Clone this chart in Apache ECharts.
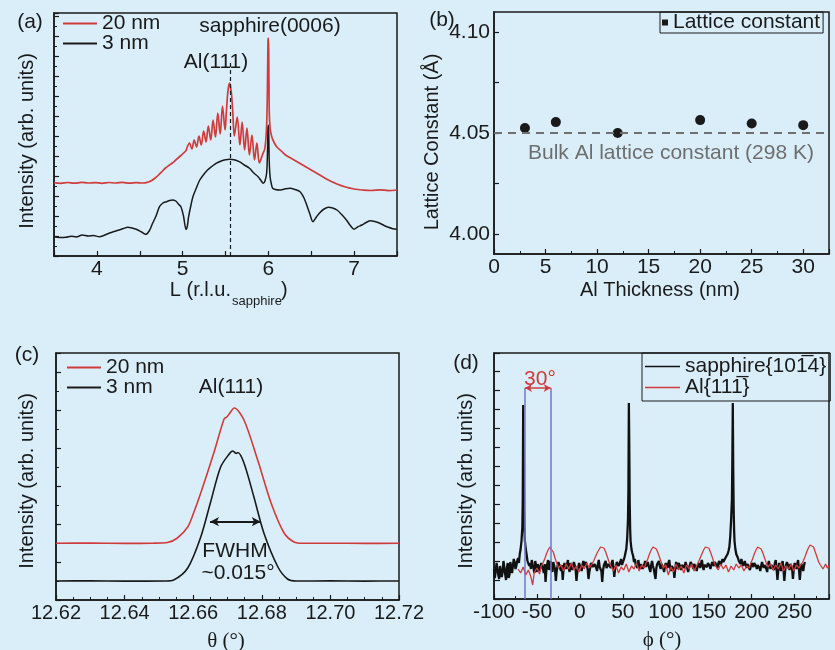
<!DOCTYPE html>
<html><head><meta charset="utf-8">
<script src="https://cdn.jsdelivr.net/npm/echarts@6/dist/echarts.min.js"></script>
<style>html,body{margin:0;padding:0;background:#daeef9;}#c{width:835px;height:650px;}</style>
</head><body><div id="c"></div>
<script>
const FONT = '"Liberation Sans", Arial, sans-serif';
const SERIF = '"Liberation Serif", "DejaVu Serif", serif';
const INK = '#1a1a1a';
const RED = '#d03c3c';
const BLUE = '#7478c4';

// ---------- (a) L scan, intensity in arbitrary units ----------
const aRed20 = [[3.50,73.3],[3.58,72.6],[3.66,73.5],[3.74,72.8],[3.82,73.6],[3.90,73.0],[3.98,73.4],[4.06,72.7],[4.14,73.5],[4.22,73.0],[4.30,73.6],[4.38,72.8],[4.46,73.4],[4.54,73.0],[4.60,74.0],[4.64,75.5],[4.68,78],[4.72,81],[4.76,84.5],[4.80,88],[4.84,90.5],[4.88,93],[4.92,96],[4.96,99],[5.00,102],[5.04,105.5],
[5.05,108],[5.08,113],[5.108,107],[5.135,116],[5.163,109],[5.19,120],[5.218,111],[5.245,125],[5.273,114],[5.30,130],[5.328,116],[5.355,136],[5.383,119],[5.41,143],[5.438,122],[5.465,150],[5.495,126],[5.51,144],[5.525,162],[5.537,170],[5.547,173],[5.557,170],[5.57,162],[5.585,144],[5.603,120],[5.637,139],[5.668,111],[5.694,134],[5.723,106],[5.750,128],[5.779,101],[5.808,121],[5.838,96],[5.866,113],[5.895,93],[5.93,101],[5.96,108],[5.98,131],[5.99,176],[5.996,216],[6.0,218],[6.004,206],[6.01,146],[6.02,128],[6.04,119],[6.07,113],[6.10,109],[6.15,105],[6.2,101],[6.3,96],[6.4,91],[6.5,86],[6.6,81],[6.7,76],[6.8,72],[6.9,69],[7.0,67],[7.1,66],[7.2,65.5],[7.3,66.2],[7.4,65.4],[7.5,66]];
const aBlack3 = [[3.50,19.3],[3.56,18.5],[3.64,18.7],[3.70,19.8],[3.76,19.0],[3.83,21],[3.90,20],[3.96,20.5],[4.03,19.3],[4.08,20.5],[4.14,22.7],[4.20,24.5],[4.26,26],[4.31,27.5],[4.36,28.7],[4.41,28],[4.46,26.7],[4.52,24],[4.57,21.7],[4.61,25],[4.65,32.7],[4.69,40],[4.73,49.3],[4.77,53],[4.81,54.3],[4.85,55.5],[4.88,56],[4.92,55],[4.95,52],[4.98,49.3],[5.01,40],[5.04,26.7],[5.055,30],[5.07,39.3],[5.10,52],[5.12,59.3],[5.16,68],[5.20,76],[5.25,82],[5.29,86],[5.34,89.5],[5.39,92.7],[5.45,95],[5.50,96.2],[5.55,96.7],[5.60,96.3],[5.66,94.3],[5.72,91],[5.78,87.7],[5.83,83],[5.88,79.3],[5.91,76],[5.94,72.7],[5.96,75],[5.98,83],[5.99,105],[5.995,125],[6.00,131],[6.005,118],[6.01,95],[6.02,79.3],[6.035,72],[6.05,67.7],[6.08,66.5],[6.13,66],[6.19,67],[6.25,67.7],[6.31,66.5],[6.37,64.3],[6.41,59],[6.44,52.7],[6.48,43],[6.52,34.3],[6.56,39],[6.60,43.3],[6.65,47],[6.70,48.7],[6.75,48],[6.80,46],[6.86,41],[6.91,36],[6.96,30],[7.00,26.7],[7.04,29],[7.09,31],[7.14,33.5],[7.19,35.3],[7.24,34.5],[7.30,32.7],[7.35,30.5],[7.40,28.7],[7.45,27.3],[7.50,26.7]];
const aPeakL = 5.55, aPeakLineTop = 193;
const aXTicks = [4, 5, 6, 7];

// ---------- (b) lattice constant ----------
const bThickness = [3, 6, 12, 20, 25, 30];
const bLattice = [4.0525, 4.0554, 4.0500, 4.0564, 4.0547, 4.0539];
const bBulk = 4.05;
const bYTicks = [4.00, 4.05, 4.10];

// ---------- (c) rocking curves ----------
const cRed20 = [[12.62,56.7],[12.63,56.9],[12.64,56.6],[12.648,56.8],[12.6525,57.5],[12.6554,62],[12.6584,73],[12.660,86],[12.6622,107],[12.666,147],[12.669,181],[12.6698,183],[12.6705,186],[12.672,192],[12.6748,180],[12.6788,140],[12.6827,97],[12.6865,67],[12.6894,58],[12.692,56.7],[12.70,56.8],[12.71,56.6],[12.72,56.7]];
const cBlack3 = [[12.62,19],[12.63,19.2],[12.64,18.9],[12.652,19],[12.6543,20],[12.6584,32],[12.6622,63],[12.665,97],[12.668,133],[12.6705,146],[12.6715,149],[12.672,148],[12.6725,146.5],[12.673,147.5],[12.6748,137],[12.6777,103],[12.6806,67],[12.6847,33],[12.6875,21],[12.69,19],[12.70,19.1],[12.71,18.9],[12.72,19]];
const cFwhm = [12.6649, 12.6797], cFwhmLevel = 78.3;

// ---------- (d) phi scans ----------
const dSapphire = [[-100,30],[-99,21],[-98,22],[-97,36],[-96,38],[-95,24],[-94,20],[-93,33],[-92,35],[-91,22],[-90,27],[-89,38],[-88,40],[-87,25],[-86,19],[-85,31],[-84,36],[-83,21],[-82,24],[-81,37],[-80,39],[-79,26],[-78,28],[-77,40],[-76,37],[-75,30],[-74,33],[-73,38],[-72,41],[-71,36],[-70,45],[-69,50],[-68,58],[-67,72],[-66.5,100],[-66,194],[-65.5,140],[-65,92],[-64.5,68],[-64,58],[-63,50],[-62,44],[-61,38],[-60,40],[-59,33],[-58,36],[-57,30],[-56,39],[-55,34],[-54,31],[-53,26],[-52,38],[-51,33],[-50,27],[-49,35],[-48,37],[-47,28],[-46,30],[-45,36],[-44,38],[-43,30],[-42,26],[-41,35],[-40,17],[-39,29],[-38,35],[-37,39],[-36,29],[-35,33],[-34,38],[-33,30],[-32,27],[-31,37],[-30,36],[-29,30],[-28,18],[-27,28],[-26,33],[-25,37],[-24,38],[-23,31],[-22,28],[-21,34],[-20,19],[-19,30],[-18,36],[-17,38],[-16,30],[-15,34],[-14,39],[-13,31],[-12,27],[-11,36],[-10,35],[-9,29],[-8,31],[-7,37],[-6,38],[-5,30],[-4,18],[-3,27],[-2,30],[-1,36],[0,37],[1,31],[2,28],[3,34],[4,38],[5,33],[6,31],[7,37],[8,36],[9,30],[10,20],[11,27],[12,29],[13,36],[14,38],[15,32],[16,30],[17,35],[18,37],[19,31],[20,28],[21,35],[22,39],[23,32],[24,30],[25,28],[26,17],[27,29],[28,34],[29,36],[30,38],[31,31],[32,29],[33,35],[34,37],[35,33],[36,31],[37,36],[38,39],[39,32],[40,22],[41,30],[42,33],[43,37],[44,38],[45,33],[46,31],[47,37],[48,40],[49,34],[50,36],[51,39],[52,42],[53,46],[54,50],[55,60],[56,80],[56.5,110],[57,196],[57.5,150],[58,95],[58.5,70],[59,58],[60,50],[61,46],[62,43],[63,37],[64,40],[65,34],[66,36],[67,31],[68,39],[69,33],[70,30],[71,35],[72,37],[73,30],[74,28],[75,35],[76,38],[77,32],[78,31],[79,37],[80,36],[81,30],[82,27],[83,34],[84,38],[85,33],[86,30],[87,28],[88,20],[89,31],[90,35],[91,37],[92,38],[93,33],[94,30],[95,35],[96,37],[97,31],[98,27],[99,33],[100,36],[101,34],[102,31],[103,36],[104,39],[105,32],[106,28],[107,33],[108,35],[109,30],[110,21],[111,30],[112,37],[113,33],[114,30],[115,36],[116,38],[117,32],[118,29],[119,34],[120,36],[121,33],[122,31],[123,37],[124,39],[125,31],[126,27],[127,31],[128,34],[129,37],[130,38],[131,33],[132,30],[133,35],[134,37],[135,31],[136,28],[137,33],[138,36],[139,34],[140,31],[141,36],[142,39],[143,33],[144,29],[145,34],[146,36],[147,35],[148,32],[149,36],[150,38],[151,33],[152,30],[153,34],[154,37],[155,35],[156,33],[157,37],[158,39],[159,34],[160,31],[161,35],[162,38],[163,36],[164,34],[165,37],[166,40],[167,37],[168,36],[169,39],[170,42],[171,43],[172,45],[173,48],[174,52],[175,62],[176,78],[177,100],[177.5,140],[178,196],[178.5,130],[179,90],[179.5,70],[180,58],[181,50],[182,45],[183,43],[184,41],[185,38],[186,37],[187,35],[188,40],[189,36],[190,33],[191,35],[192,38],[193,34],[194,31],[195,35],[196,37],[197,33],[198,29],[199,33],[200,36],[201,35],[202,32],[203,36],[204,38],[205,33],[206,30],[207,34],[208,35],[209,31],[210,28],[211,33],[212,37],[213,35],[214,31],[215,34],[216,36],[217,30],[218,27],[219,34],[220,38],[221,33],[222,30],[223,34],[224,36],[225,32],[226,29],[227,36],[228,39],[229,30],[230,19],[231,30],[232,36],[233,33],[234,28],[235,35],[236,38],[237,30],[238,18],[239,29],[240,34],[241,37],[242,39],[243,32],[244,29],[245,35],[246,37],[247,31],[248,20],[249,30],[250,36],[251,33],[252,30],[253,35],[254,39],[255,30],[256,19],[257,29],[258,35],[259,33],[260,28],[261,34],[262,37]];
const dAl = [[-72,30],[-69,26],[-66,32],[-63,24],[-60,29],[-57,22],[-55,14],[-53,27],[-50,31],[-47,25],[-45,33],[-43,36],[-41,40],[-39,45],[-37,49],[-35,52],[-34,53],[-33,51],[-31,47],[-29,41],[-27,36],[-25,31],[-22,34],[-19,28],[-16,35],[-13,30],[-10,36],[-7,29],[-4,33],[-1,27],[2,34],[5,30],[8,36],[11,31],[14,35],[16,38],[18,42],[20,46],[22,49],[24,52],[26,53],[28,51],[30,47],[32,42],[34,37],[36,33],[39,28],[42,34],[45,26],[48,32],[51,29],[54,35],[57,27],[60,33],[63,30],[66,36],[69,28],[72,34],[75,31],[77,36],[79,40],[81,45],[83,49],[85,52],[87,53],[89,50],[91,46],[93,41],[95,36],[97,31],[100,34],[103,24],[106,32],[109,27],[112,35],[115,29],[118,33],[121,26],[124,34],[127,30],[130,35],[133,28],[136,33],[138,37],[140,41],[142,45],[144,49],[146,52],[148,53],[150,51],[152,47],[154,42],[156,37],[158,33],[161,29],[164,35],[167,30],[170,34],[173,27],[176,33],[179,29],[182,35],[185,31],[188,34],[191,28],[194,33],[197,31],[199,36],[201,40],[203,45],[205,49],[207,52],[209,53],[211,50],[213,46],[215,41],[217,36],[219,32],[222,35],[225,29],[228,34],[231,30],[234,36],[237,28],[240,33],[243,30],[246,35],[249,28],[252,34],[255,31],[258,35],[260,38],[262,42],[264,47],[266,51],[268,54],[270,55],[272,52],[274,47],[276,42],[278,37],[280,34],[283,30],[286,35],[288,31],[290,33]];
const dGuides = [-64, -34], dGuideTop = 211;

// ---------- helpers ----------
function axisLineStyle() { return { show: true, onZero: false, lineStyle: { color: INK, width: 1.5 } }; }
function tick(len) { return { show: true, inside: true, length: len, lineStyle: { color: INK, width: 1.2 } }; }
function minor(n) { return { show: true, splitNumber: n, length: 3, lineStyle: { color: INK, width: 1 } }; }
const lbl = (o) => Object.assign({ color: INK, fontSize: 21, fontFamily: FONT, margin: 3 }, o);
const noSplit = { show: false };

const grids = [
  { left: 54, top: 13, width: 343, height: 243 },
  { left: 494, top: 12, width: 335, height: 242 },
  { left: 56, top: 353, width: 343, height: 247 },
  { left: 494, top: 353, width: 335, height: 246 }
].map(g => Object.assign(g, { show: true, borderColor: INK, borderWidth: 1.5, backgroundColor: 'transparent' }));

const xAxes = [
  { gridIndex: 0, type: 'value', min: 3.5, max: 7.5, interval: 0.5, axisLine: axisLineStyle(), axisTick: tick(5), minorTick: { show: false }, splitLine: noSplit,
    axisLabel: lbl({ formatter: v => (aXTicks.indexOf(v) >= 0 ? String(v) : '') }) },
  { gridIndex: 1, type: 'value', min: 0, max: 32.5, interval: 5, axisLine: axisLineStyle(), axisTick: tick(5), minorTick: minor(2), splitLine: noSplit,
    axisLabel: lbl({ showMaxLabel: false }) },
  { gridIndex: 2, type: 'value', min: 12.62, max: 12.72, interval: 0.02, axisLine: axisLineStyle(), axisTick: tick(5), minorTick: minor(4), splitLine: noSplit,
    axisLabel: lbl({ fontSize: 20, formatter: v => v.toFixed(2) }) },
  { gridIndex: 3, type: 'value', min: -100, max: 290, interval: 50, axisLine: axisLineStyle(), axisTick: tick(5), minorTick: minor(2), splitLine: noSplit,
    axisLabel: lbl({ showMaxLabel: false }) }
];
const yAxes = [
  { gridIndex: 0, type: 'value', min: 0, max: 243, interval: 20, axisLine: axisLineStyle(), axisTick: tick(5), minorTick: minor(2), splitLine: noSplit, axisLabel: { show: false } },
  { gridIndex: 1, type: 'value', min: 3.99, max: 4.11, axisLine: axisLineStyle(),
    axisTick: { show: true, inside: true, length: 5, lineStyle: { color: INK, width: 1.2 }, customValues: [4.0, 4.025, 4.05, 4.075, 4.1] },
    splitLine: noSplit, axisLabel: lbl({ margin: 4, customValues: bYTicks, formatter: v => v.toFixed(2) }) },
  { gridIndex: 2, type: 'value', min: 0, max: 247, interval: 38, axisLine: axisLineStyle(), axisTick: tick(5), minorTick: minor(2), splitLine: noSplit, axisLabel: { show: false } },
  { gridIndex: 3, type: 'value', min: 0, max: 246, interval: 19, axisLine: axisLineStyle(), axisTick: tick(6), minorTick: { show: false }, splitLine: noSplit, axisLabel: { show: false } }
];

const lineSeries = (name, gi, data, color, width) => ({
  type: 'line', name, xAxisIndex: gi, yAxisIndex: gi, data, symbol: 'none', showSymbol: false,
  lineStyle: { color, width }, itemStyle: { color }, silent: true
});

const sA20 = lineSeries('20 nm', 0, aRed20, RED, 1.7); sA20.smooth = 0.35;
const sA3 = lineSeries('3 nm', 0, aBlack3, INK, 1.5); sA3.smooth = 0.3;
sA3.markLine = { silent: true, symbol: 'none', label: { show: false }, lineStyle: { type: [4, 3], color: INK, width: 1.2 },
  data: [[{ coord: [aPeakL, 0] }, { coord: [aPeakL, aPeakLineTop] }]] };

const sB = { type: 'scatter', name: 'Lattice constant', xAxisIndex: 1, yAxisIndex: 1, symbol: 'circle', symbolSize: 10,
  itemStyle: { color: INK, opacity: 1 }, data: bThickness.map((t, i) => [t, bLattice[i]]),
  markLine: { silent: true, symbol: 'none', label: { show: false }, lineStyle: { type: [8, 6], color: '#707070', width: 2 }, data: [{ yAxis: bBulk }] } };

const sC20 = lineSeries('20 nm', 2, cRed20, RED, 1.6); sC20.smooth = 0.3;
const sC3 = lineSeries('3 nm', 2, cBlack3, INK, 1.6); sC3.smooth = 0.3;
sC3.markLine = { silent: true, symbol: ['arrow', 'arrow'], symbolSize: [7, 9], label: { show: false }, lineStyle: { type: 'solid', color: INK, width: 2 },
  data: [[{ coord: [cFwhm[0], cFwhmLevel] }, { coord: [cFwhm[1], cFwhmLevel] }]] };

const sD1 = lineSeries('sapphire{10' + '1\u0305' + '4}', 3, dSapphire, '#111111', 2.3);
sD1.markLine = { silent: true, symbol: 'none', label: { show: false }, lineStyle: { type: 'solid', color: BLUE, width: 1.5 },
  data: dGuides.map(g => [{ coord: [g, 0] }, { coord: [g, dGuideTop] }]) };
const sD2 = lineSeries('Al{11' + '1\u0305' + '}', 3, dAl, RED, 1.3);
sD2.markLine = { silent: true, symbol: ['arrow', 'arrow'], symbolSize: [6, 7], label: { show: false }, lineStyle: { type: 'solid', color: RED, width: 1.5 },
  data: [[{ coord: [dGuides[0], dGuideTop] }, { coord: [dGuides[1], dGuideTop] }]] };

const legText = { color: INK, fontSize: 21, fontFamily: FONT };
const lineIcon = 'rect';
const legends = [
  { left: 63, top: 13, orient: 'vertical', icon: lineIcon, itemWidth: 34, itemHeight: 2, itemGap: -1, padding: 0, selectedMode: false, data: ['20 nm', '3 nm'], textStyle: legText },
  { left: 660, top: 12, orient: 'vertical', itemWidth: 6, itemHeight: 6, padding: [0, 3, 0, 2], selectedMode: false, borderColor: INK, borderWidth: 1,
    data: [{ name: 'Lattice constant', icon: 'rect' }], textStyle: legText },
  { left: 67, top: 357, orient: 'vertical', icon: lineIcon, itemWidth: 34, itemHeight: 2, itemGap: -1, padding: 0, selectedMode: false, data: ['20 nm', '3 nm'], textStyle: legText },
  { left: 642, top: 353, orient: 'vertical', icon: lineIcon, itemWidth: 35, itemHeight: 1.5, itemGap: 0, padding: [3, 4, 3, 3], selectedMode: false, borderColor: INK, borderWidth: 1,
    data: [sD1.name, sD2.name], textStyle: legText }
];

function txt(text, x, y, o) {
  o = o || {};
  return { type: 'text', x, y, rotation: o.rot || 0, silent: true, z: 100,
    style: { text, fill: o.color || INK, font: (o.size || 21) + 'px ' + (o.family || FONT), align: o.align || 'center', verticalAlign: 'middle' } };
}
const R = Math.PI / 2;
const graphics = [
  txt('(a)', 30, 22), txt('(b)', 442, 20), txt('(c)', 27, 355), txt('(d)', 466, 363),
  txt('sapphire(0006)', 270, 26), txt('Al(111)', 216, 62),
  txt('Bulk Al lattice constant (298 K)', 671, 153, { color: '#6e6e6e' }),
  txt('Al(111)', 231, 387), txt('FWHM', 235, 551), txt('~0.015°', 238, 573),
  txt('30°', 540, 379, { color: RED }),
  txt('Intensity (arb. units)', 27, 141, { rot: R, size: 20 }),
  txt('Lattice Constant (Å)', 432, 142, { rot: R, size: 20 }),
  txt('Intensity (arb. units)', 27, 481, { rot: R, size: 20 }),
  txt('Intensity (arb. units)', 466, 481, { rot: R, size: 20 }),
  txt('L (r.l.u.', 231, 290, { align: 'right', size: 20 }),
  txt('sapphire', 232, 301, { align: 'left', size: 13 }),
  txt(')', 281, 290, { align: 'left', size: 20 }),
  txt('Al Thickness (nm)', 660, 290, { size: 20 }),
  txt('θ (°)', 226, 641, { size: 21, family: SERIF }),
  txt('ϕ (°)', 662, 640, { size: 21, family: SERIF })
];

const chart = echarts.init(document.getElementById('c'), null, { renderer: 'canvas' });
chart.setOption({
  backgroundColor: '#daeef9',
  animation: false,
  grid: grids, xAxis: xAxes, yAxis: yAxes,
  legend: legends,
  series: [sA20, sA3, sB, sC20, sC3, sD1, sD2],
  graphic: graphics
});
</script></body></html>
